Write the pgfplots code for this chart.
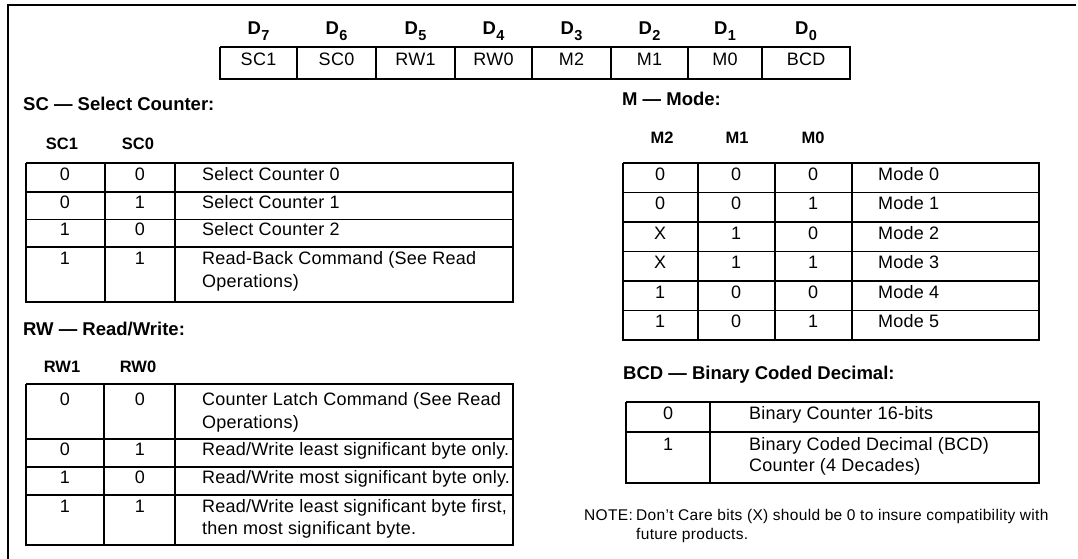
\documentclass[border=0pt]{standalone}
\usepackage{fontspec}
\setmainfont{Liberation Sans}
\usepackage{pgfplots}
\pgfplotsset{compat=1.18}
\newcommand\body{\fontsize{18}{21}\selectfont\addfontfeatures{LetterSpace=1.4}}
\newcommand\ttl{\fontsize{18.5}{22}\selectfont\bfseries}
\newcommand\hdr{\fontsize{16.5}{20}\selectfont\bfseries}
\newcommand\note{\fontsize{15.5}{18}\selectfont\addfontfeatures{LetterSpace=2}}
\newcommand\Dl[1]{{\fontsize{18.5}{20}\selectfont\bfseries D\kern0.5pt\raisebox{-0.3em}{\fontsize{14.5}{14}\selectfont #1}}}
\tikzset{
  outer/.style={black, line width=2.5pt, line join=miter, mark=none},
  inner/.style={black, line width=1.9pt, mark=none},
  frame/.style={black, line width=1.5pt, mark=none},
  L/.style={anchor=mid west, inner sep=0pt, font=\body},
  C/.style={anchor=mid, inner sep=0pt, font=\body},
}
\begin{document}
\begin{tikzpicture}
\useasboundingbox (0,0) rectangle (1078pt,559pt);
\begin{axis}[
  at={(0pt,0pt)}, anchor=south west,
  scale only axis, width=1078pt, height=559pt,
  xmin=0, xmax=1078, ymin=0, ymax=559, y dir=reverse,
  hide axis, clip=false,
  unbounded coords=jump,
]
% outer frame
\addplot[frame] coordinates {(8,559) (8,5) (1076,5)};

% ---- bit register box ----
\addplot[outer] coordinates {(220,47) (850,47) (850,79) (220,79) (220,47)};
\addplot[inner] coordinates {(297,47) (297,79) (297,nan) (376,47) (376,79) (376,nan)
  (455,47) (455,79) (455,nan) (532,47) (532,79) (532,nan) (611,47) (611,79) (611,nan)
  (688,47) (688,79) (688,nan) (762,47) (762,79)};
\node[C] at (axis cs:258.5,32) {\Dl{7}};
\node[C] at (axis cs:336.5,32) {\Dl{6}};
\node[C] at (axis cs:415.5,32) {\Dl{5}};
\node[C] at (axis cs:493.5,32) {\Dl{4}};
\node[C] at (axis cs:571.5,32) {\Dl{3}};
\node[C] at (axis cs:649.5,32) {\Dl{2}};
\node[C] at (axis cs:725,32) {\Dl{1}};
\node[C] at (axis cs:806,32) {\Dl{0}};
\node[C] at (axis cs:258.5,63) {SC1};
\node[C] at (axis cs:336.5,63) {SC0};
\node[C] at (axis cs:415.5,63) {RW1};
\node[C] at (axis cs:493.5,63) {RW0};
\node[C] at (axis cs:571.5,63) {M2};
\node[C] at (axis cs:649.5,63) {M1};
\node[C] at (axis cs:725,63) {M0};
\node[C] at (axis cs:806,63) {BCD};

% ---- SC table ----
\node[L, font=\ttl] at (axis cs:23,108) {SC — Select Counter:};
\node[C, font=\hdr] at (axis cs:62,147) {SC1};
\node[C, font=\hdr] at (axis cs:138,147) {SC0};
\addplot[outer] coordinates {(26,163) (513,163) (513,302) (26,302) (26,163)};
\addplot[inner] coordinates {(26,192) (513,192) (513,nan) (26,219.5) (513,219.5) (513,nan)
  (26,247) (513,247) (513,nan) (105,163) (105,302) (105,nan) (175,163) (175,302)};
\node[C] at (axis cs:65,177.5) {0};   \node[C] at (axis cs:140,177.5) {0};
\node[L] at (axis cs:202,177.5) {Select Counter 0};
\node[C] at (axis cs:65,205.75) {0};   \node[C] at (axis cs:140,205.75) {1};
\node[L] at (axis cs:202,205.75) {Select Counter 1};
\node[C] at (axis cs:65,233.25) {1};   \node[C] at (axis cs:140,233.25) {0};
\node[L] at (axis cs:202,233.25) {Select Counter 2};
\node[C] at (axis cs:65,262) {1};     \node[C] at (axis cs:140,262) {1};
\node[L] at (axis cs:202,262) {Read-Back Command (See Read};
\node[L] at (axis cs:202,285) {Operations)};

% ---- RW table ----
\node[L, font=\ttl] at (axis cs:23,333) {RW — Read/Write:};
\node[C, font=\hdr] at (axis cs:62,370) {RW1};
\node[C, font=\hdr] at (axis cs:138,370) {RW0};
\addplot[outer] coordinates {(26,384) (513,384) (513,545) (26,545) (26,384)};
\addplot[inner] coordinates {(26,439) (513,439) (513,nan) (26,467) (513,467) (513,nan)
  (26,495) (513,495) (513,nan) (104,384) (104,545) (104,nan) (175,384) (175,545)};
\node[C] at (axis cs:65,403) {0};   \node[C] at (axis cs:140,403) {0};
\node[L] at (axis cs:202,403) {Counter Latch Command (See Read};
\node[L] at (axis cs:202,426) {Operations)};
\node[C] at (axis cs:65,453) {0};   \node[C] at (axis cs:140,453) {1};
\node[L] at (axis cs:202,453) {Read/Write least significant byte only.};
\node[C] at (axis cs:65,481) {1};   \node[C] at (axis cs:140,481) {0};
\node[L] at (axis cs:202,481) {Read/Write most significant byte only.};
\node[C] at (axis cs:65,510) {1};   \node[C] at (axis cs:140,510) {1};
\node[L] at (axis cs:202,510) {Read/Write least significant byte first,};
\node[L] at (axis cs:202,532) {then most significant byte.};

% ---- M table ----
\node[L, font=\ttl] at (axis cs:622,103) {M — Mode:};
\node[C, font=\hdr] at (axis cs:662,141) {M2};
\node[C, font=\hdr] at (axis cs:737,141) {M1};
\node[C, font=\hdr] at (axis cs:813,141) {M0};
\addplot[outer] coordinates {(623,163) (1039,163) (1039,340) (623,340) (623,163)};
\addplot[inner] coordinates {(623,192.5) (1039,192.5) (1039,nan) (623,222) (1039,222) (1039,nan)
  (623,251.5) (1039,251.5) (1039,nan) (623,281) (1039,281) (1039,nan)
  (623,310.5) (1039,310.5) (1039,nan)
  (698,163) (698,340) (698,nan) (775,163) (775,340) (775,nan) (852,163) (852,340)};
\node[C] at (axis cs:660,177.75) {0}; \node[C] at (axis cs:736,177.75) {0}; \node[C] at (axis cs:813,177.75) {0};
\node[L] at (axis cs:878,177.75) {Mode 0};
\node[C] at (axis cs:660,207.25) {0}; \node[C] at (axis cs:736,207.25) {0}; \node[C] at (axis cs:813,207.25) {1};
\node[L] at (axis cs:878,207.25) {Mode 1};
\node[C] at (axis cs:660,236.75) {X}; \node[C] at (axis cs:736,236.75) {1}; \node[C] at (axis cs:813,236.75) {0};
\node[L] at (axis cs:878,236.75) {Mode 2};
\node[C] at (axis cs:660,266.25) {X}; \node[C] at (axis cs:736,266.25) {1}; \node[C] at (axis cs:813,266.25) {1};
\node[L] at (axis cs:878,266.25) {Mode 3};
\node[C] at (axis cs:660,295.75) {1}; \node[C] at (axis cs:736,295.75) {0}; \node[C] at (axis cs:813,295.75) {0};
\node[L] at (axis cs:878,295.75) {Mode 4};
\node[C] at (axis cs:660,325.25) {1}; \node[C] at (axis cs:736,325.25) {0}; \node[C] at (axis cs:813,325.25) {1};
\node[L] at (axis cs:878,325.25) {Mode 5};

% ---- BCD table ----
\node[L, font=\ttl] at (axis cs:623,377) {BCD — Binary Coded Decimal:};
\addplot[outer] coordinates {(626,402) (1039,402) (1039,483) (626,483) (626,402)};
\addplot[inner] coordinates {(626,432) (1039,432) (1039,nan) (710,402) (710,483)};
\node[C] at (axis cs:668,417) {0};
\node[L] at (axis cs:749,417) {Binary Counter 16-bits};
\node[C] at (axis cs:668,448) {1};
\node[L] at (axis cs:749,448) {Binary Coded Decimal (BCD)};
\node[L] at (axis cs:749,469) {Counter (4 Decades)};

% ---- note ----
\node[L, font=\note] at (axis cs:584,518) {NOTE:};
\node[L, font=\note] at (axis cs:636,518) {Don't Care bits (X) should be 0 to insure compatibility with};
\node[L, font=\note] at (axis cs:636,537) {future products.};
\end{axis}
\end{tikzpicture}
\end{document}
